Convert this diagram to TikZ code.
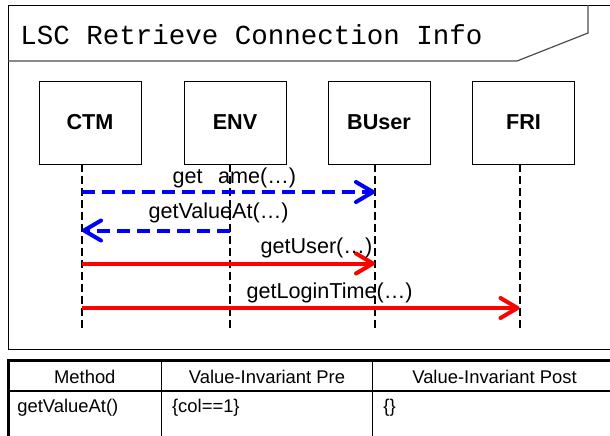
\documentclass[tikz,border=0pt]{standalone}
\usepackage{fontspec}
\setmainfont{Liberation Sans}
\setmonofont{Liberation Mono}
\usetikzlibrary{arrows.meta}
\tikzset{
	lsc_obj/.style = {draw=black, line width=0.5pt, minimum width=51pt,
		minimum height=41.5pt, inner sep=0pt,
		font=\fontsize{10.8}{12}\selectfont\bfseries},% objet, boite
	lsc_line/.style = {draw=black, line width=1pt,
		dash pattern=on 4pt off 2pt},% ligne de vie
	msg_cold/.style = {->, draw=blue, line width=2pt,
		dash pattern=on 6.5pt off 3.5pt},% message froid
	msg_hot/.style = {->, draw=red, line width=2pt},% message chaud
	msg_lbl/.style = {anchor=base, yshift=5pt, inner sep=0pt, black,
		font=\fontsize{10.8}{12}\selectfont},% texte du message
	tab_txt/.style = {anchor=base, inner sep=0pt,
		font=\fontsize{9.2}{11}\selectfont}% texte du tableau
}
\begin{document}
\begin{tikzpicture}[x=0.5pt, y=-0.5pt, >={Straight Barb[length=8.5pt, width=10pt, round]}]
	\useasboundingbox (0,0) rectangle (610,435);
	\clip (0,0) rectangle (610,435);
	% cadre et titre
	\draw[line width=0.5pt] (8,5) rectangle (620,349);
	\draw[line width=0.6pt, black!70] (8,61) -- (517,61) -- (588,33) -- (588,5);
	\node[anchor=base west, inner sep=0pt, font=\fontsize{13.75}{15}\selectfont\ttfamily]
		(title) at (20,44) {LSC Retrieve Connection Info};
	% objets
	\node[lsc_obj] (ctm) at (90,122.5) {CTM};
	\node[lsc_obj] (env) at (235,122.5) {ENV};
	\node[lsc_obj] (buser) at (379,122.5) {BUser};
	\node[lsc_obj] (fri) at (523.5,122.5) {FRI};
	\coordinate (ctm_l) at (82,164);
	\coordinate (env_l) at (229.5,164);
	\coordinate (buser_l) at (375,164);
	\coordinate (fri_l) at (519.5,164);
	\coordinate (bottom) at (0,330);
	\foreach \o in {ctm,env,buser,fri}
		\draw[lsc_line] (\o_l) -- (\o_l |- bottom);
	% messages
	\coordinate (r1) at (0,192);
	\coordinate (r2) at (0,230.5);
	\coordinate (r3) at (0,263.5);
	\coordinate (r4) at (0,308);
	\draw[msg_cold] (ctm_l |- r1) -- node[msg_lbl, pos=0.52, yshift=-0.5pt] {get\phantom{N}ame(…)} (buser_l |- r1);
	\draw[msg_cold] (env_l |- r2) -- node[msg_lbl, pos=0.074, yshift=1pt] {getValueAt(…)} (ctm_l |- r2);
	\draw[msg_hot] (ctm_l |- r3) -- node[msg_lbl, pos=0.8] {getUser(…)} (buser_l |- r3);
	\draw[msg_hot] (ctm_l |- r4) -- node[msg_lbl, pos=0.566] {getLoginTime(…)} (fri_l |- r4);
	% tableau
	\draw[line width=1.5pt] (8,500) -- (8,360) -- (620,360);
	\draw[line width=0.7pt] (8,391) -- (620,391);
	\draw[line width=0.7pt] (161.7,360) -- (161.7,500) (372.7,360) -- (372.7,500);
	\node[tab_txt] (h_method) at (84.8,383) {Method};
	\node[tab_txt] (h_pre) at (267,383) {Value-Invariant Pre};
	\node[tab_txt] (h_post) at (494.5,383) {Value-Invariant Post};
	\node[tab_txt, anchor=base west] (c_method) at (17,412) {getValueAt()};
	\node[tab_txt, anchor=base west] (c_pre) at (171.7,412) {\{col==1\}};
	\node[tab_txt, anchor=base west] (c_post) at (383,412) {\{\}};
\end{tikzpicture}
\end{document}
